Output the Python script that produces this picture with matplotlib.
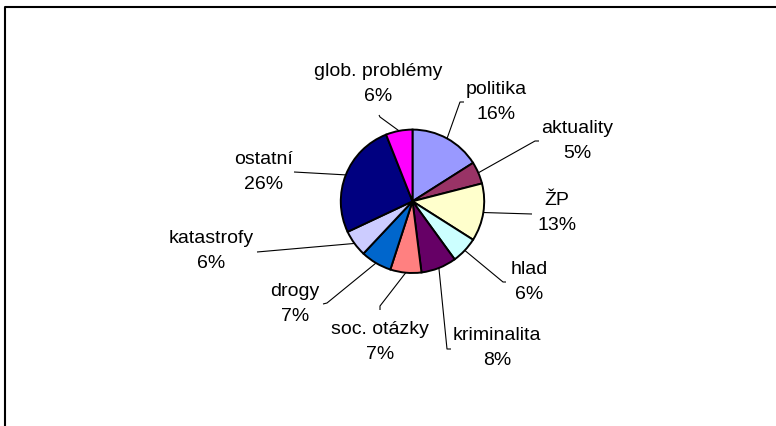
import numpy as np
import matplotlib
matplotlib.use('Agg')
import matplotlib.pyplot as plt

plt.rcParams['font.family'] = ['Liberation Sans', 'DejaVu Sans']

# data
categories = ['politika', 'aktuality', 'ŽP', 'hlad', 'kriminalita',
              'soc. otázky', 'drogy', 'katastrofy', 'ostatní', 'glob. problémy']
values = [16, 5, 13, 6, 8, 7, 7, 6, 26, 6]
colors = ['#9999FF', '#993366', '#FFFFCC', '#CCFFFF', '#660066',
          '#FF8080', '#0066CC', '#CCCCFF', '#000080', '#FF00FF']

W, H = 776, 427
cx, cy, R = 412.5, H - 202.3, 71.7

# label layout in pixel coords (from top-left)
label_pos = [(496, 102), (577, 141), (557, 213), (529, 282), (497, 348),
             (380, 342), (295, 304), (211, 251), (264, 172), (378, 84)]
# leader line elbow and end tick (pixel coords)
leader = [((460, 103), (464, 103)), ((535, 142), (539, 142)),
          ((532, 215), (532, 215)), ((503, 283), (506, 283)),
          ((447, 350), (451, 350)), ((380, 307), (380, 311)),
          ((327, 304), (323, 305)), ((257, 253), (257, 253)),
          ((294, 173), (294, 173)), ((380, 118), (379, 116))]

fig = plt.figure(figsize=(W / 100, H / 100), dpi=100)
ax = fig.add_axes([0, 0, 1, 1])

wedges, _ = ax.pie(values, colors=colors, startangle=90, counterclock=False,
                   center=(cx, cy), radius=R,
                   wedgeprops=dict(edgecolor='black', linewidth=1.4))

total = sum(values)
for w, cat, v, (tx, ty), (elb, tick) in zip(wedges, categories, values,
                                             label_pos, leader):
    mid = np.deg2rad((w.theta1 + w.theta2) / 2)
    x0, y0 = cx + R * np.cos(mid), cy + R * np.sin(mid)
    ax.plot([x0, elb[0], tick[0]], [y0, H - elb[1], H - tick[1]],
            color='black', lw=0.8, solid_capstyle='butt')
    pct = round(100 * v / total)
    ax.text(tx, H - ty, f'{cat}\n{pct}%', ha='center', va='center',
            multialignment='center', fontsize=14, linespacing=1.65,
            color='black')

# chart border (left and top edge visible)
ax.plot([4.5, 4.5, W + 5], [-5, H - 8, H - 8], color='black', lw=1.5,
        clip_on=False)

ax.set_xlim(0, W)
ax.set_ylim(0, H)
ax.axis('off')

fig.savefig('out.png', dpi=100, facecolor='white')
